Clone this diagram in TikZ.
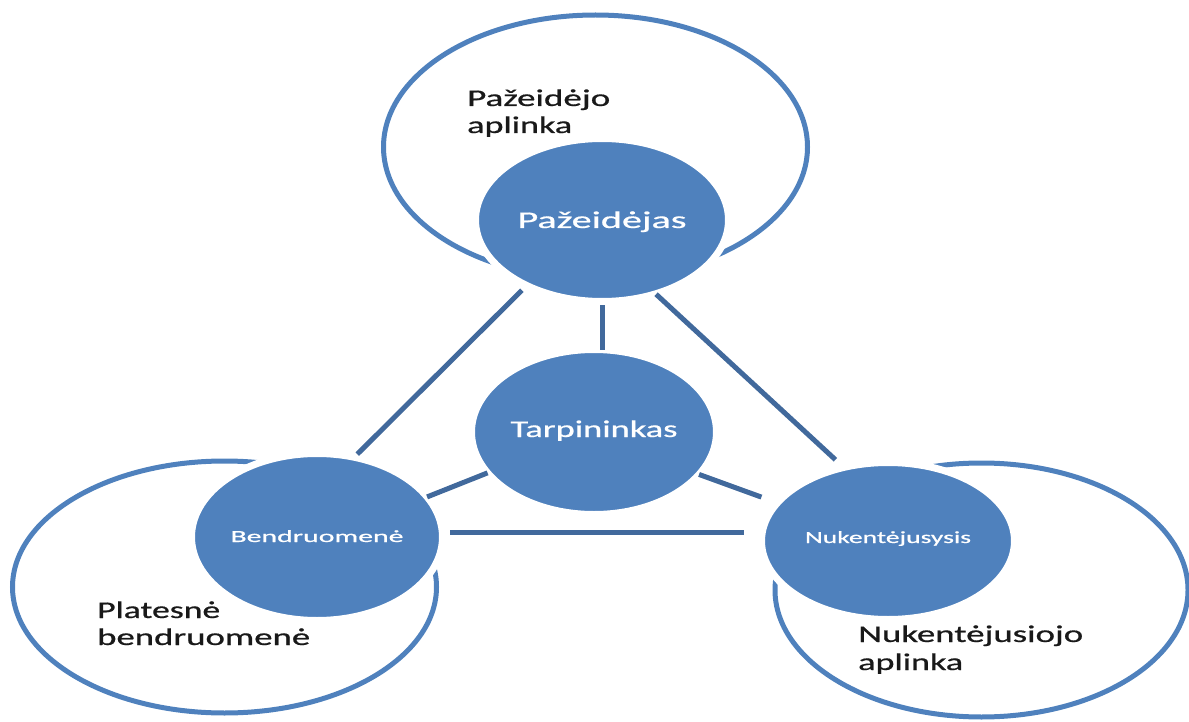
\documentclass[tikz,border=0pt]{standalone}
\usepackage{fontspec}
\setmainfont{Carlito}
\newfontfamily\heavy[FakeBold=0.6]{Carlito}
\usetikzlibrary{shapes.geometric}
\definecolor{ringblue}{HTML}{4F81BD}
\definecolor{lineblue}{HTML}{41699C}
\newcommand{\fitw}[2]{\resizebox{#1}{\height}{#2}}
\begin{document}
\begin{tikzpicture}[x=1pt,y=-1pt,
  ring/.style={draw=ringblue, line width=5pt},
  hub/.style={ellipse, fill=ringblue, draw=white, line width=7pt, inner sep=0pt, outer sep=0pt, text=white},
  bigtext/.style={font=\heavy\fontsize{24}{28}\selectfont},
  smalltext/.style={font=\heavy\fontsize{17}{20}\selectfont},
  link/.style={draw=lineblue, line width=5pt},
  lab/.style={anchor=base west, inner sep=0pt, text=black!90, font=\heavy\fontsize{24}{28}\selectfont}]
\useasboundingbox (0,0) rectangle (1189,722);
% outer rings
\draw[ring] (595.5,147) ellipse [x radius=212, y radius=132];
\draw[ring] (224.5,587) ellipse [x radius=212, y radius=126];
\draw[ring] (981.5,590) ellipse [x radius=206.5, y radius=127];
% hubs
\node[hub, bigtext, minimum width=253pt, minimum height=163pt, text height=20pt, text depth=4pt] (P) at (602,220) {\fitw{169pt}{Pažeidėjas}};
\node[hub, bigtext, minimum width=245pt, minimum height=165pt, text height=17pt, text depth=7pt] (T) at (594,432) {\fitw{167pt}{Tarpininkas}};
\node[hub, smalltext, minimum width=251pt, minimum height=167pt, text height=14pt, text depth=4pt] (B) at (317,537) {\fitw{173pt}{Bendruomenė}};
\node[hub, smalltext, minimum width=253pt, minimum height=157pt, text height=12pt, text depth=8pt] (N) at (888,541) {\fitw{166pt}{Nukentėjusysis}};
% connectors
\draw[link, shorten <=6.7pt, shorten >=4.4pt] (P.221.2) -- (B.65.7);
\draw[link, shorten <=0.6pt, shorten >=11.4pt] (P.306.6) -- (N.121.6);
\draw[link, shorten <=3.5pt] (P.270) -- (P.270 |- T.90);
\draw[link] (T.201) -- (B.20.9);
\draw[link, shorten >=17pt] (T.338.7) -- (N.161);
\draw[link, shorten <=8pt, shorten >=18pt] (B.2) -- (B.2 -| N.180);
% labels
\node[lab] (pa1) at (467,106) {\fitw{143pt}{Pažeidėjo}};
\node[lab] (pa2) at (467,133) {\fitw{105pt}{aplinka}};
\node[lab] (pb1) at (97,618) {\fitw{123pt}{Platesnė}};
\node[lab] (pb2) at (97,645) {\fitw{213pt}{bendruomenė}};
\node[lab] (na1) at (858,642) {\fitw{225pt}{Nukentėjusiojo}};
\node[lab] (na2) at (858,670) {\fitw{105pt}{aplinka}};
\end{tikzpicture}
\end{document}
